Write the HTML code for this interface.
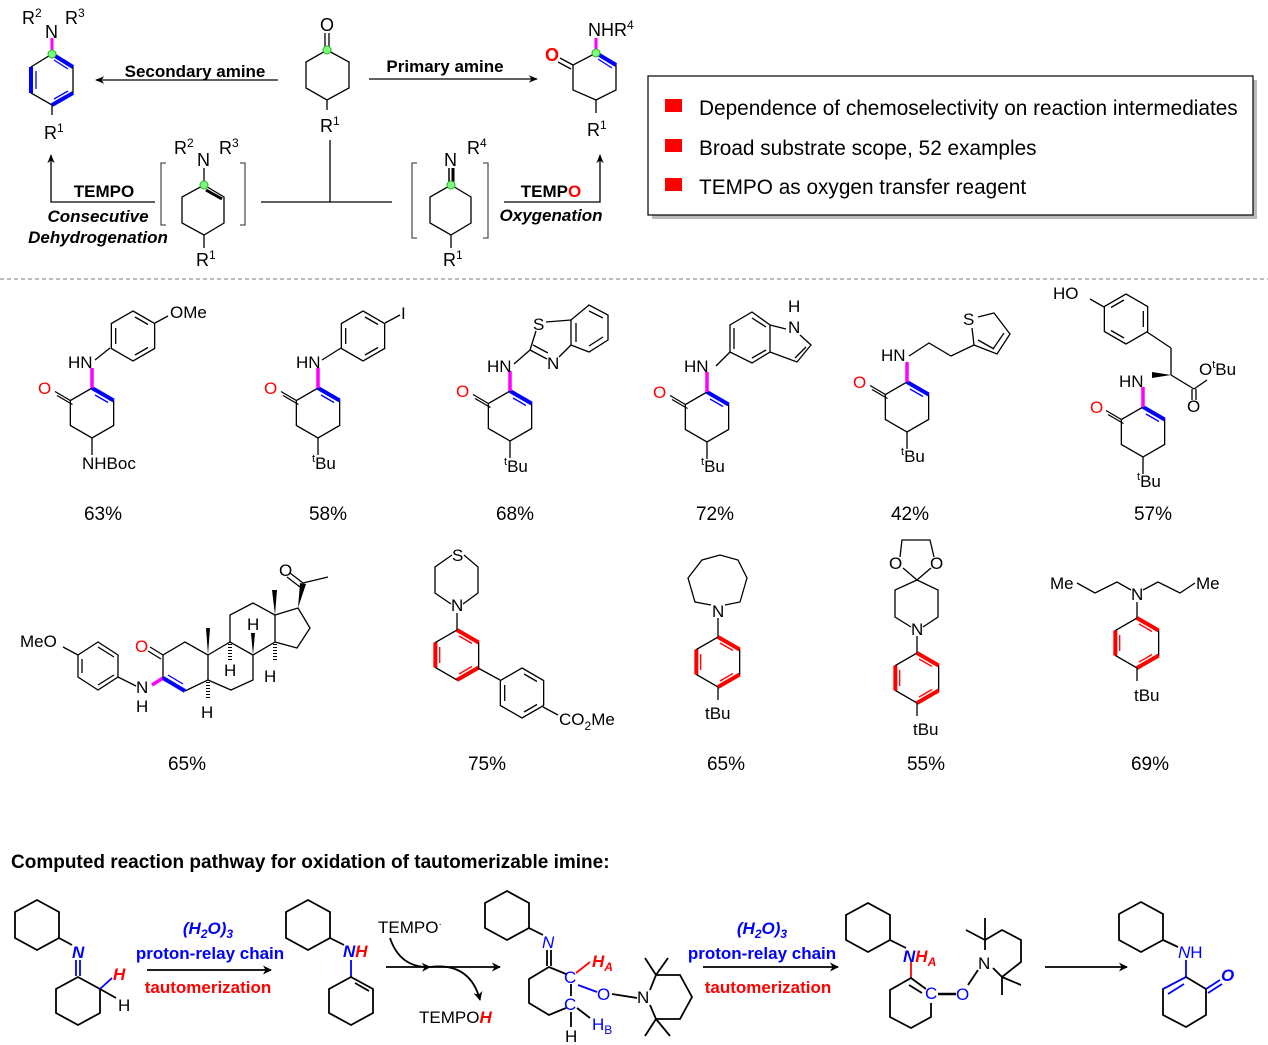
<!DOCTYPE html>
<html><head><meta charset="utf-8"><style>
html,body{margin:0;padding:0;background:#fff}
svg{display:block}
text{font-family:"Liberation Sans",Arial,sans-serif;fill:#000}
.b{font-weight:bold}
.i{font-style:italic}
</style></head><body>
<svg width="1268" height="1045" viewBox="0 0 1268 1045" xmlns="http://www.w3.org/2000/svg">
<defs>
<marker id="ar" viewBox="0 0 10 10" refX="9" refY="5" markerWidth="7" markerHeight="7" orient="auto"><path d="M0,1 L10,5 L0,9 L3,5z" fill="#000"/></marker>
<marker id="arb" viewBox="0 0 10 10" refX="9" refY="5" markerWidth="9" markerHeight="9" markerUnits="userSpaceOnUse" orient="auto"><path d="M0,0 L10,5 L0,10 L3,5z" fill="#000"/></marker>
<polygon id="hx" points="0,-25 21.65,-12.5 21.65,12.5 0,25 -21.65,12.5 -21.65,-12.5" fill="none" stroke="#000" stroke-width="1.3"/>
<g id="arom" fill="none" stroke="#000" stroke-width="1.3">
<use href="#hx"/>
<line x1="2" y1="-19" x2="15" y2="-11.5"/><line x1="-17.3" y1="8" x2="-17.3" y2="-8"/><line x1="15" y1="11.5" x2="2" y2="19"/>
</g>
<g id="redr" fill="none" stroke-width="1.3">
<use href="#hx"/>
<g stroke="#f00"><line x1="0" y1="-25" x2="21.65" y2="-12.5" stroke-width="4"/><line x1="-21.65" y1="12.5" x2="-21.65" y2="-12.5" stroke-width="4"/><line x1="21.65" y1="12.5" x2="0" y2="25" stroke-width="4"/>
<line x1="2" y1="-19" x2="15" y2="-11.5"/><line x1="-17.3" y1="8" x2="-17.3" y2="-8"/><line x1="15" y1="11.5" x2="2" y2="19"/></g>
</g>
<g id="en" fill="none" stroke-width="1.3">
<use href="#hx"/>
<line x1="0" y1="-25" x2="21.65" y2="-12.5" stroke="#00f" stroke-width="4"/>
<line x1="3" y1="-18" x2="16" y2="-10.5" stroke="#00f"/>
<line x1="0" y1="-25" x2="0" y2="-45" stroke="#f0f" stroke-width="3.5"/>
<line x1="-21.65" y1="-12.5" x2="-37" y2="-21.5" stroke="#000"/>
<line x1="-19.5" y1="-8.5" x2="-35" y2="-17.5" stroke="#000"/>
<line x1="0" y1="25" x2="0" y2="42" stroke="#000"/>
</g>
</defs>

<!-- ===== TOP SCHEME ===== -->
<g fill="none" stroke="#000" stroke-width="1.3">
<polygon points="52,54 73,67 73,93 52,105 31,93 31,67"/>
<line x1="52" y1="54" x2="73" y2="67" stroke="#00f" stroke-width="4"/>
<line x1="31" y1="67" x2="31" y2="93" stroke="#00f" stroke-width="4"/>
<line x1="73" y1="93" x2="52" y2="105" stroke="#00f" stroke-width="4"/>
<line x1="54" y1="60" x2="68" y2="69" stroke="#00f"/><line x1="36" y1="71" x2="36" y2="89" stroke="#00f"/><line x1="68" y1="91" x2="54" y2="99" stroke="#00f"/>
<line x1="52" y1="54" x2="52" y2="38" stroke="#f0f" stroke-width="3"/>
<line x1="52" y1="105" x2="52" y2="115"/>
<line x1="278" y1="80" x2="96" y2="80" marker-end="url(#ar)"/>
<polygon points="327,50 349,62 349,88 327,100 306,88 306,62"/>
<line x1="325" y1="50" x2="325" y2="33"/><line x1="329" y1="50" x2="329" y2="33"/>
<line x1="327" y1="100" x2="327" y2="110"/>
<line x1="330" y1="140" x2="330" y2="202"/>
<line x1="261" y1="202" x2="392" y2="202"/>
<line x1="369" y1="79" x2="537" y2="79" marker-end="url(#ar)"/>
<polygon points="596,53 616,65 616,90 596,100 573,90 573,65"/>
<line x1="596" y1="53" x2="616" y2="65" stroke="#00f" stroke-width="4"/>
<line x1="598" y1="59" x2="612" y2="68" stroke="#00f"/>
<line x1="596" y1="53" x2="596" y2="38" stroke="#f0f" stroke-width="3"/>
<line x1="573" y1="65" x2="560" y2="58"/><line x1="571" y1="69" x2="558" y2="62"/>
<line x1="596" y1="100" x2="596" y2="113"/>
<path d="M166,163 H161 V225 H166 M240,163 H245 V225 H240" stroke="#555"/>
<polygon points="204,185 224,197 224,223 204,235 182,223 182,197"/>
<line x1="206" y1="190" x2="222" y2="199" stroke-width="3"/>
<line x1="204" y1="185" x2="204" y2="168"/>
<line x1="204" y1="235" x2="204" y2="248"/>
<path d="M417,163 H412 V238 H417 M483,163 H488 V238 H483" stroke="#555"/>
<polygon points="451,185 471,197 471,223 451,235 430,223 430,197"/>
<line x1="449" y1="185" x2="449" y2="168" stroke-width="1.5"/><line x1="453" y1="185" x2="453" y2="168" stroke-width="3"/>
<line x1="451" y1="235" x2="451" y2="248"/>
<polyline points="155,202 51,202 51,155" marker-end="url(#ar)"/>
<polyline points="504,202 600,202 600,155" marker-end="url(#ar)"/>
</g>
<g fill="#7f7" stroke="#3a3" stroke-width="1"><circle cx="52" cy="54" r="4"/><circle cx="327" cy="50" r="4"/><circle cx="596" cy="53" r="4"/><circle cx="204" cy="185" r="4"/><circle cx="451" cy="185" r="4"/></g>
<g font-size="18">
<text x="22" y="24">R<tspan dy="-7" font-size="12">2</tspan></text><text x="45" y="38">N</text><text x="65" y="24">R<tspan dy="-7" font-size="12">3</tspan></text>
<text x="44" y="139">R<tspan dy="-7" font-size="12">1</tspan></text>
<text x="320" y="31">O</text>
<text x="320" y="132">R<tspan dy="-7" font-size="12">1</tspan></text>
<text x="588" y="36">NHR<tspan dy="-7" font-size="12">4</tspan></text>
<text x="545" y="61" style="fill:#f00" font-weight="bold">O</text>
<text x="587" y="136">R<tspan dy="-7" font-size="12">1</tspan></text>
<text x="174" y="154">R<tspan dy="-7" font-size="12">2</tspan></text><text x="197" y="166">N</text><text x="219" y="154">R<tspan dy="-7" font-size="12">3</tspan></text>
<text x="196" y="266">R<tspan dy="-7" font-size="12">1</tspan></text>
<text x="444" y="166">N</text><text x="467" y="154">R<tspan dy="-7" font-size="12">4</tspan></text>
<text x="443" y="266">R<tspan dy="-7" font-size="12">1</tspan></text>
</g>
<text x="195" y="77" font-size="17" class="b" text-anchor="middle">Secondary amine</text>
<text x="445" y="72" font-size="17" class="b" text-anchor="middle">Primary amine</text>
<text x="104" y="197" font-size="17" class="b" text-anchor="middle">TEMPO</text>
<text x="98" y="222" font-size="17" class="b i" text-anchor="middle">Consecutive</text>
<text x="98" y="243" font-size="17" class="b i" text-anchor="middle">Dehydrogenation</text>
<text x="551" y="197" font-size="17" class="b" text-anchor="middle">TEMP<tspan style="fill:#f00">O</tspan></text>
<text x="551" y="221" font-size="17" class="b i" text-anchor="middle">Oxygenation</text>
<rect x="652" y="80" width="605" height="139" fill="#bbb"/>
<rect x="648" y="76" width="605" height="139" fill="#fff" stroke="#000" stroke-width="1.2"/>
<rect x="665" y="99" width="17" height="13" fill="#f00"/>
<rect x="665" y="139" width="17" height="13" fill="#f00"/>
<rect x="665" y="178" width="17" height="13" fill="#f00"/>
<text x="699" y="115" font-size="20.8">Dependence of chemoselectivity on reaction intermediates</text>
<text x="699" y="155" font-size="20.8">Broad substrate scope, 52 examples</text>
<text x="699" y="194" font-size="20.8">TEMPO as oxygen transfer reagent</text>
<line x1="0" y1="279" x2="1268" y2="279" stroke="#777" stroke-dasharray="4,3"/>

<!-- ===== ROW 1 ===== -->
<g fill="none" stroke="#000" stroke-width="1.3">
<use href="#en" transform="translate(92,413)"/>
<use href="#arom" transform="translate(133,336)"/>
<line x1="95" y1="360" x2="110" y2="348"/><line x1="155" y1="323" x2="168" y2="316"/>
<use href="#en" transform="translate(318,413)"/>
<use href="#arom" transform="translate(363,336)"/>
<line x1="322" y1="360" x2="341" y2="348"/><line x1="385" y1="323" x2="400" y2="315"/>
<use href="#en" transform="translate(510,416)"/>
<!-- benzothiazole -->
<line x1="514" y1="364" x2="530" y2="350"/>
<line x1="546" y1="322" x2="571" y2="320"/>
<line x1="536" y1="331" x2="530" y2="350"/>
<line x1="530" y1="350" x2="547" y2="359"/><line x1="533" y1="345" x2="548" y2="353"/>
<line x1="559" y1="357" x2="571" y2="345"/>
<polygon points="571,320 589,305 608,315 608,340 589,352 571,345"/>
<line x1="589" y1="311" x2="603" y2="318"/><line x1="603" y1="337" x2="589" y2="346"/><line x1="576" y1="323" x2="576" y2="342"/>
<use href="#en" transform="translate(707,417)"/>
<polygon points="752,312 770,325 770,352 752,363 730,352 730,325"/>
<line x1="752" y1="318" x2="766" y2="327"/><line x1="734" y1="328" x2="734" y2="349"/><line x1="766" y1="350" x2="752" y2="358"/>
<polyline points="770,325 786,329"/><polyline points="800,335 811,345 797,362 770,352"/>
<line x1="806" y1="347" x2="795" y2="358"/>
<line x1="716" y1="366" x2="730" y2="352"/>
<use href="#en" transform="translate(907,407)"/>
<polyline points="909,356 929,343 951,356 974,345"/>
<polyline points="974,345 972,328"/><polyline points="978,317 994,313 1010,334 997,354 974,345"/>
<line x1="1004" y1="333" x2="993" y2="349"/><line x1="978" y1="340" x2="994" y2="349"/>
<use href="#en" transform="translate(1143,432)"/>
<use href="#arom" transform="translate(1126,319) rotate(180)"/>
<line x1="1104" y1="307" x2="1090" y2="299"/>
<line x1="1147" y1="332" x2="1171" y2="348"/><line x1="1171" y1="348" x2="1171" y2="375"/>
<line x1="1171" y1="375" x2="1194" y2="389"/><line x1="1194" y1="389" x2="1207" y2="380"/>
<line x1="1192" y1="389" x2="1192" y2="400"/><line x1="1196" y1="389" x2="1196" y2="400"/>
</g>
<polygon points="1171,375 1152,378 1152,372" fill="#000"/>
<g font-size="17">
<text x="170" y="318">OMe</text>
<text x="68" y="368">HN</text>
<text x="38" y="394" style="fill:#f00">O</text>
<text x="82" y="469">NHBoc</text>
<text x="296" y="368">HN</text>
<text x="401" y="319">I</text>
<text x="264" y="394" style="fill:#f00">O</text>
<text x="312" y="469"><tspan dy="-7" font-size="11">t</tspan><tspan dy="7">Bu</tspan></text>
<text x="533" y="330">S</text>
<text x="547" y="369">N</text>
<text x="487" y="372">HN</text>
<text x="456" y="397" style="fill:#f00">O</text>
<text x="504" y="472"><tspan dy="-7" font-size="11">t</tspan><tspan dy="7">Bu</tspan></text>
<text x="788" y="312">H</text><text x="788" y="333">N</text>
<text x="684" y="372">HN</text>
<text x="653" y="398" style="fill:#f00">O</text>
<text x="701" y="472"><tspan dy="-7" font-size="11">t</tspan><tspan dy="7">Bu</tspan></text>
<text x="963" y="325">S</text>
<text x="881" y="361">HN</text>
<text x="853" y="388" style="fill:#f00">O</text>
<text x="901" y="462"><tspan dy="-7" font-size="11">t</tspan><tspan dy="7">Bu</tspan></text>
<text x="1053" y="299">HO</text>
<text x="1119" y="387">HN</text>
<text x="1199" y="375">O<tspan dy="-7" font-size="11">t</tspan><tspan dy="7">Bu</tspan></text>
<text x="1187" y="412">O</text>
<text x="1090" y="413" style="fill:#f00">O</text>
<text x="1137" y="487"><tspan dy="-7" font-size="11">t</tspan><tspan dy="7">Bu</tspan></text>
</g>
<g font-size="19" text-anchor="middle">
<text x="103" y="520">63%</text><text x="328" y="520">58%</text><text x="515" y="520">68%</text><text x="715" y="520">72%</text><text x="910" y="520">42%</text><text x="1153" y="520">57%</text>
</g>

<!-- ===== ROW 2 ===== -->
<g fill="none" stroke="#000" stroke-width="1.3">
<polygon points="98,642 118,655 118,677 98,690 78,677 78,655"/>
<line x1="98" y1="647" x2="114" y2="657"/><line x1="82" y1="659" x2="82" y2="673"/><line x1="114" y1="675" x2="98" y2="685"/>
<line x1="78" y1="655" x2="63" y2="647"/>
<line x1="118" y1="677" x2="136" y2="686"/>
<line x1="152" y1="685" x2="163" y2="678" stroke="#f0f" stroke-width="3.5"/>
<polyline points="163,678 163,655 185,642 208,655 208,680 185,691"/>
<line x1="163" y1="678" x2="185" y2="691" stroke="#00f" stroke-width="4"/>
<line x1="168" y1="675" x2="183" y2="684" stroke="#00f"/>
<line x1="163" y1="655" x2="150" y2="647"/><line x1="161" y1="659" x2="148" y2="651"/>
<polyline points="208,655 230,642 253,655 253,680 231,690 208,680"/>
<polyline points="230,642 230,615 253,603 275,615 275,642 253,655"/>
<polyline points="275,615 298,608 310,628 297,648 275,642"/>
<line x1="303" y1="583" x2="328" y2="577"/>
<line x1="303" y1="583" x2="290" y2="573"/><line x1="300" y1="587" x2="287" y2="577"/>
</g>
<g fill="#000">
<polygon points="208,655 206,628 210,628"/>
<polygon points="275,615 272,590 277,590"/>
<polygon points="298,608 300,583 306,584"/>
<polygon points="253,655 251,633 255,633"/>
</g>
<g stroke="#000" stroke-dasharray="1,2" stroke-width="4"><line x1="230" y1="644" x2="230" y2="660"/><line x1="275" y1="644" x2="275" y2="662"/><line x1="208" y1="682" x2="208" y2="700"/></g>
<g font-size="17">
<text x="20" y="647">MeO</text>
<text x="135" y="652" style="fill:#f00">O</text>
<text x="136" y="693">N</text><text x="136" y="712">H</text>
<text x="279" y="576">O</text>
<text x="224" y="676">H</text><text x="247" y="630">H</text><text x="264" y="682">H</text><text x="201" y="718">H</text>
</g>
<g fill="none" stroke="#000" stroke-width="1.3">
<polyline points="452,555 435,567 435,593 451,604"/><polyline points="464,555 478,567 478,593 463,604"/>
<line x1="457" y1="613" x2="457" y2="630"/>
<use href="#redr" transform="translate(457,655)"/>
<line x1="478" y1="668" x2="500" y2="680"/>
<use href="#arom" transform="translate(522,693)"/>
<line x1="543" y1="707" x2="558" y2="715"/>
<polyline points="711,605 695,602 688,578 702,560 720,555 738,560 747,578 740,602 725,605"/>
<line x1="718" y1="618" x2="718" y2="637"/>
<use href="#redr" transform="translate(718,662)"/>
<line x1="718" y1="687" x2="718" y2="700"/>
<polyline points="900,557 902,540 930,540 934,557"/>
<polyline points="903,568 917,580 931,568"/>
<polyline points="911,627 895,617 895,590 917,580 938,590 938,617 923,627"/>
<line x1="917" y1="636" x2="917" y2="653"/>
<use href="#redr" transform="translate(917,678)"/>
<line x1="917" y1="703" x2="917" y2="716"/>
<polyline points="1077,583 1095,593 1117,582 1131,590"/>
<polyline points="1143,590 1158,582 1180,593 1195,583"/>
<line x1="1137" y1="602" x2="1137" y2="618"/>
<use href="#redr" transform="translate(1137,643)"/>
<line x1="1137" y1="668" x2="1137" y2="681"/>
</g>
<g font-size="17">
<text x="452" y="561">S</text><text x="451" y="611">N</text>
<text x="559" y="725">CO<tspan dy="5" font-size="12">2</tspan><tspan dy="-5">Me</tspan></text>
<text x="712" y="617">N</text><text x="705" y="719">tBu</text>
<text x="889" y="569">O</text><text x="930" y="569">O</text><text x="911" y="635">N</text><text x="913" y="735">tBu</text>
<text x="1050" y="589">Me</text><text x="1196" y="589">Me</text><text x="1131" y="600">N</text><text x="1134" y="701">tBu</text>
</g>
<g font-size="19" text-anchor="middle">
<text x="187" y="770">65%</text><text x="487" y="770">75%</text><text x="726" y="770">65%</text><text x="926" y="770">55%</text><text x="1150" y="770">69%</text>
</g>

<!-- ===== BOTTOM ===== -->
<text x="11" y="868" font-size="19" class="b">Computed reaction pathway for oxidation of tautomerizable imine:</text>
<g fill="none" stroke="#000" stroke-width="1.8">
<polygon points="37,900 59,912 59,938 37,950 15,938 15,912"/>
<line x1="59" y1="938" x2="72" y2="945"/>
<line x1="76" y1="960" x2="76" y2="976" stroke="#00f"/><line x1="80" y1="960" x2="80" y2="976" stroke="#00f"/>
<polygon points="78,977 100,989 100,1013 78,1025 56,1013 56,989"/>
<line x1="100" y1="989" x2="112" y2="978" stroke="#00f"/>
<line x1="100" y1="989" x2="116" y2="998"/>
<line x1="147" y1="970" x2="271" y2="970" marker-end="url(#arb)"/>
<polygon points="308,900 330,912 330,938 308,950 286,938 286,912"/>
<line x1="330" y1="938" x2="344" y2="945"/>
<line x1="351" y1="960" x2="351" y2="977" stroke="#00f"/>
<polygon points="351,977 373,989 373,1013 351,1025 329,1013 329,989"/>
<line x1="355" y1="983" x2="369" y2="991"/>
<line x1="386" y1="967" x2="500" y2="967" marker-end="url(#arb)"/>
<path d="M390,938 Q400,968 430,967" marker-end="url(#arb)"/>
<path d="M430,967 Q470,962 480,1000" marker-end="url(#arb)"/>
<polygon points="507,891 529,903 529,928 507,940 485,928 485,903"/>
<line x1="529" y1="928" x2="543" y2="935"/>
<line x1="547" y1="950" x2="547" y2="966"/><line x1="551" y1="950" x2="551" y2="966"/>
<polyline points="566,974 549,967 529,979 529,1003 549,1015 566,1008"/>
<line x1="571" y1="984" x2="571" y2="996"/>
<line x1="576" y1="973" x2="590" y2="962" stroke="#f00"/>
<line x1="578" y1="985" x2="597" y2="992" stroke="#00f"/>
<line x1="612" y1="994" x2="637" y2="998"/>
<line x1="577" y1="1008" x2="590" y2="1018"/>
<line x1="571" y1="1012" x2="571" y2="1027"/>
<polyline points="650,990 656,975 680,975 692,997 680,1019 656,1019 650,1005"/>
<line x1="656" y1="975" x2="645" y2="958"/><line x1="656" y1="975" x2="668" y2="958"/>
<line x1="656" y1="1019" x2="645" y2="1036"/><line x1="656" y1="1019" x2="670" y2="1036"/>
<line x1="703" y1="967" x2="838" y2="967" marker-end="url(#arb)"/>
<polygon points="868,903 890,915 890,940 868,952 846,940 846,915"/>
<line x1="890" y1="940" x2="906" y2="948"/>
<line x1="911" y1="962" x2="911" y2="978" stroke="#f00"/>
<polyline points="926,989 911,978 890,990 890,1017 911,1028 931,1017 931,1003"/>
<line x1="909" y1="985" x2="922" y2="993"/>
<line x1="938" y1="994" x2="956" y2="994" stroke-width="2.5"/>
<line x1="968" y1="985" x2="978" y2="970"/>
<polyline points="985,950 985,940 1002,930 1021,940 1021,962 1002,977 993,968"/>
<line x1="985" y1="940" x2="966" y2="930"/><line x1="985" y1="940" x2="985" y2="918"/>
<line x1="1002" y1="977" x2="1021" y2="985"/><line x1="1002" y1="977" x2="1002" y2="995"/>
<line x1="1045" y1="967" x2="1127" y2="967" marker-end="url(#arb)"/>
<polygon points="1141,902 1163,914 1163,940 1141,952 1119,940 1119,914"/>
<line x1="1163" y1="940" x2="1178" y2="947"/>
<line x1="1186" y1="960" x2="1186" y2="977" stroke="#00f"/>
<polyline points="1186,977 1206,989 1206,1015 1186,1027 1163,1015 1163,989 1186,977"/>
<line x1="1163" y1="989" x2="1186" y2="977" stroke="#00f"/><line x1="1168" y1="994" x2="1184" y2="984" stroke="#00f"/>
<line x1="1206" y1="989" x2="1220" y2="980" stroke="#00f"/><line x1="1208" y1="993" x2="1222" y2="984" stroke="#00f"/>
</g>
<g font-size="17">
<text x="72" y="958" class="b i" style="fill:#00f">N</text>
<text x="113" y="980" class="b i" style="fill:#f00">H</text>
<text x="118" y="1011">H</text>
<text x="208" y="934" text-anchor="middle" class="b i" style="fill:#00f">(H<tspan dy="4" font-size="12">2</tspan><tspan dy="-4">O)</tspan><tspan dy="4" font-size="12">3</tspan></text>
<text x="210" y="959" text-anchor="middle" class="b" style="fill:#00f">proton-relay chain</text>
<text x="208" y="993" text-anchor="middle" class="b" style="fill:#f00">tautomerization</text>
<text x="343" y="957" class="b i"><tspan style="fill:#00f">N</tspan><tspan style="fill:#f00">H</tspan></text>
<text x="378" y="933">TEMPO<tspan dy="-6" font-size="10">·</tspan></text>
<text x="419" y="1023">TEMPO<tspan class="b i" style="fill:#f00">H</tspan></text>
<text x="542" y="948" class="i" style="fill:#00f">N</text>
<text x="564" y="983" style="fill:#00f">C</text><text x="564" y="1010" style="fill:#00f">C</text>
<text x="592" y="967" class="b i" style="fill:#f00">H<tspan dy="4" font-size="12">A</tspan></text>
<text x="597" y="1000" style="fill:#00f">O</text>
<text x="592" y="1030" style="fill:#00f">H<tspan dy="4" font-size="12">B</tspan></text>
<text x="565" y="1042">H</text>
<text x="637" y="1003">N</text>
<text x="762" y="934" text-anchor="middle" class="b i" style="fill:#00f">(H<tspan dy="4" font-size="12">2</tspan><tspan dy="-4">O)</tspan><tspan dy="4" font-size="12">3</tspan></text>
<text x="762" y="959" text-anchor="middle" class="b" style="fill:#00f">proton-relay chain</text>
<text x="768" y="993" text-anchor="middle" class="b" style="fill:#f00">tautomerization</text>
<text x="903" y="962" class="b i"><tspan style="fill:#00f">N</tspan><tspan style="fill:#f00">H<tspan dy="4" font-size="12">A</tspan></tspan></text>
<text x="925" y="999" style="fill:#00f">C</text>
<text x="956" y="1000" style="fill:#00f">O</text>
<text x="978" y="969">N</text>
<text x="1178" y="958"><tspan class="i" style="fill:#00f">N</tspan><tspan style="fill:#00f">H</tspan></text>
<text x="1221" y="981" class="b i" style="fill:#00f">O</text>
</g>
</svg>
</body></html>
